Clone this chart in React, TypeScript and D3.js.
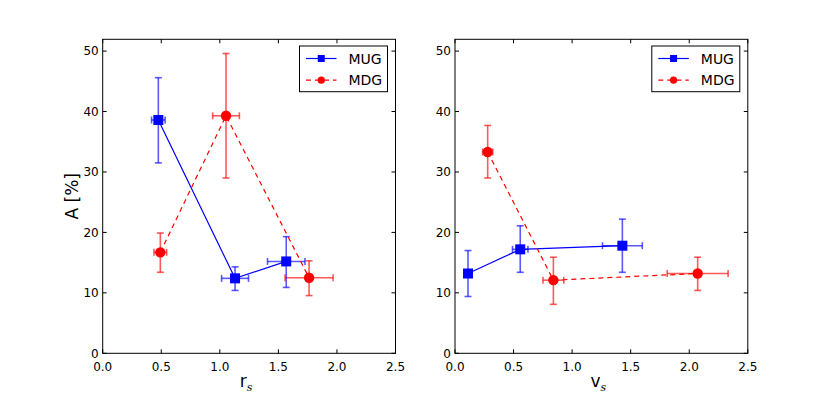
import React from "react";
import * as d3 from "d3";

const xTicks = [0, 0.5, 1.0, 1.5, 2.0, 2.5];
const yTicks = [0, 10, 20, 30, 40, 50];
const seriesNames = ["MUG", "MDG"];

// Left panel (r_s)
const rsMUG_x = [0.475, 1.13, 1.567];
const rsMUG_y = [38.6, 12.4, 15.2];
const rsMUG_xerr = [0.058, 0.115, 0.16];
const rsMUG_yerrLo = [7.1, 2.0, 4.3];
const rsMUG_yerrHi = [7.0, 1.9, 4.1];
const rsMDG_x = [0.492, 1.053, 1.762];
const rsMDG_y = [16.7, 39.3, 12.5];
const rsMDG_xerr = [0.054, 0.114, 0.205];
const rsMDG_yerrLo = [3.3, 10.3, 2.95];
const rsMDG_yerrHi = [3.2, 10.3, 2.8];

// Right panel (v_s)
const vsMUG_x = [0.111, 0.557, 1.429];
const vsMUG_y = [13.2, 17.2, 17.8];
const vsMUG_xerr = [0.0, 0.066, 0.17];
const vsMUG_yerrLo = [3.8, 3.8, 4.4];
const vsMUG_yerrHi = [3.8, 3.9, 4.4];
const vsMDG_x = [0.279, 0.84, 2.072];
const vsMDG_y = [33.3, 12.1, 13.2];
const vsMDG_xerr = [0.043, 0.089, 0.26];
const vsMDG_yerrLo = [4.3, 4.0, 2.8];
const vsMDG_yerrHi = [4.4, 3.8, 2.7];

const BLUE = "#0000ff";
const RED = "#ff0000";
const FONT = "DejaVu Sans, sans-serif";

type Series = {
  x: number[];
  y: number[];
  xerr: number[];
  lo: number[];
  hi: number[];
  color: string;
  dashed: boolean;
  marker: "square" | "circle";
};

function Panel({ left, label, series }: { left: number; label: string; series: Series[] }) {
  const top = 39.3;
  const bottom = 353.3;
  const width = 292.8;
  const x = d3.scaleLinear().domain([0, 2.5]).range([left, left + width]);
  const y = d3.scaleLinear().domain([0, 51.95]).range([bottom, top]);
  const line = d3
    .line<[number, number]>()
    .x((d) => x(d[0]))
    .y((d) => y(d[1]));
  const cap = 3.5;
  return (
    <g>
      {series.map((s, si) => (
        <g key={si}>
          {/* error bars */}
          <g stroke={s.color} strokeOpacity={0.65} strokeWidth={1.6} fill="none">
            {s.x.map((xv, i) => {
              const cx = x(xv);
              const cy = y(s.y[i]);
              const y1 = y(s.y[i] + s.hi[i]);
              const y2 = y(s.y[i] - s.lo[i]);
              const x1 = x(xv - s.xerr[i]);
              const x2 = x(xv + s.xerr[i]);
              return (
                <g key={i}>
                  <line x1={cx} x2={cx} y1={y1} y2={y2} />
                  <line x1={cx - cap} x2={cx + cap} y1={y1} y2={y1} />
                  <line x1={cx - cap} x2={cx + cap} y1={y2} y2={y2} />
                  {s.xerr[i] > 0 && (
                    <g>
                      <line x1={x1} x2={x2} y1={cy} y2={cy} />
                      <line x1={x1} x2={x1} y1={cy - cap} y2={cy + cap} />
                      <line x1={x2} x2={x2} y1={cy - cap} y2={cy + cap} />
                    </g>
                  )}
                </g>
              );
            })}
          </g>
          <path
            d={line(s.x.map((v, i) => [v, s.y[i]] as [number, number])) || ""}
            stroke={s.color}
            strokeWidth={1.2}
            fill="none"
            strokeDasharray={s.dashed ? "5,4" : undefined}
          />
          {s.x.map((xv, i) =>
            s.marker === "square" ? (
              <rect key={i} x={x(xv) - 5} y={y(s.y[i]) - 5} width={10} height={10} fill={s.color} />
            ) : (
              <circle key={i} cx={x(xv)} cy={y(s.y[i])} r={5.2} fill={s.color} />
            )
          )}
        </g>
      ))}
      {/* frame */}
      <rect x={left} y={top} width={width} height={bottom - top} fill="none" stroke="#000" strokeWidth={1} />
      {/* ticks */}
      {xTicks.map((t) => (
        <g key={"x" + t}>
          <line x1={x(t)} x2={x(t)} y1={bottom} y2={bottom - 4} stroke="#000" />
          <line x1={x(t)} x2={x(t)} y1={top} y2={top + 4} stroke="#000" />
          <text x={x(t)} y={bottom + 17.5} textAnchor="middle" fontSize={12} fontFamily={FONT}>
            {t.toFixed(1)}
          </text>
        </g>
      ))}
      {yTicks.map((t) => (
        <g key={"y" + t}>
          <line x1={left} x2={left + 4} y1={y(t)} y2={y(t)} stroke="#000" />
          <line x1={left + width} x2={left + width - 4} y1={y(t)} y2={y(t)} stroke="#000" />
          <text x={left - 4} y={y(t) + 4.3} textAnchor="end" fontSize={12} fontFamily={FONT}>
            {t}
          </text>
        </g>
      ))}
      {/* x label */}
      <text x={left + width / 2 - 3} y={387} textAnchor="middle" fontSize={17} fontFamily={FONT}>
        {label}
        <tspan fontSize={11} fontStyle="italic" fontFamily="DejaVu Serif, serif" dy={4}>
          s
        </tspan>
      </text>
      {/* legend */}
      <g>
        <rect x={left + width - 96} y={46} width={88} height={45.7} fill="#fff" stroke="#000" strokeWidth={1} />
        {series.map((s, si) => {
          const ly = 58.5 + si * 21.7;
          const lx = left + width - 89.5;
          return (
            <g key={si}>
              <line
                x1={lx}
                x2={lx + 30.5}
                y1={ly}
                y2={ly}
                stroke={s.color}
                strokeWidth={1.2}
                strokeDasharray={s.dashed ? "5,4" : undefined}
              />
              {s.marker === "square" ? (
                <rect x={lx + 15.25 - 3.5} y={ly - 3.5} width={7} height={7} fill={s.color} />
              ) : (
                <circle cx={lx + 15.25} cy={ly} r={3.6} fill={s.color} />
              )}
              <text x={lx + 42.5} y={ly + 5} fontSize={14} fontFamily={FONT}>
                {seriesNames[si]}
              </text>
            </g>
          );
        })}
      </g>
    </g>
  );
}

export default function App() {
  const left: Series[] = [
    { x: rsMUG_x, y: rsMUG_y, xerr: rsMUG_xerr, lo: rsMUG_yerrLo, hi: rsMUG_yerrHi, color: BLUE, dashed: false, marker: "square" },
    { x: rsMDG_x, y: rsMDG_y, xerr: rsMDG_xerr, lo: rsMDG_yerrLo, hi: rsMDG_yerrHi, color: RED, dashed: true, marker: "circle" },
  ];
  const right: Series[] = [
    { x: vsMUG_x, y: vsMUG_y, xerr: vsMUG_xerr, lo: vsMUG_yerrLo, hi: vsMUG_yerrHi, color: BLUE, dashed: false, marker: "square" },
    { x: vsMDG_x, y: vsMDG_y, xerr: vsMDG_xerr, lo: vsMDG_yerrLo, hi: vsMDG_yerrHi, color: RED, dashed: true, marker: "circle" },
  ];
  return (
    <svg
      width={830}
      height={394}
      style={{ position: "absolute", left: 0, top: 0, background: "#fff" }}
    >
      <rect width={830} height={394} fill="#fff" />
      <Panel left={102.7} label="r" series={left} />
      <Panel left={455} label="v" series={right} />
      <text
        transform="translate(78,196.3) rotate(-90)"
        textAnchor="middle"
        fontSize={17}
        fontFamily={FONT}
      >
        A [%]
      </text>
    </svg>
  );
}
